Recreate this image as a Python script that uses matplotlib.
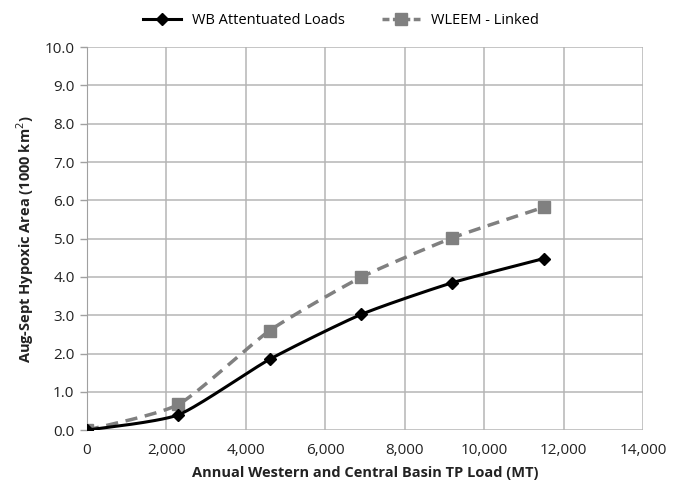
import numpy as np
import matplotlib.pyplot as plt

# -------------------------
# Data
# -------------------------

load = [0, 2300, 4600, 6900, 9200, 11500]
wb_attenuated = [0.0, 0.40, 1.85, 3.02, 3.85, 4.48]
wleem_linked = [0.0, 0.67, 2.60, 3.99, 5.02, 5.82]

x_ticks = [0, 2000, 4000, 6000, 8000, 10000, 12000, 14000]
y_ticks = [0, 1, 2, 3, 4, 5, 6, 7, 8, 9, 10]


def smooth(x, y, s=0.6, n=30):
    # cardinal spline through the points (Excel-like "smoothed line")
    x = np.asarray(x, float)
    y = np.asarray(y, float)
    px = np.concatenate(([x[0]], x, [x[-1]]))
    py = np.concatenate(([y[0]], y, [y[-1]]))
    t = np.linspace(0, 1, n)
    h00 = 2 * t ** 3 - 3 * t ** 2 + 1
    h10 = t ** 3 - 2 * t ** 2 + t
    h01 = -2 * t ** 3 + 3 * t ** 2
    h11 = t ** 3 - t ** 2
    xs, ys = [], []
    for i in range(1, len(px) - 2):
        for p, out in ((px, xs), (py, ys)):
            m1 = s * (p[i + 1] - p[i - 1]) / 2
            m2 = s * (p[i + 2] - p[i]) / 2
            out.extend(h00 * p[i] + h10 * m1 + h01 * p[i + 1] + h11 * m2)
    return np.array(xs), np.array(ys)


plt.rcParams["font.family"] = ["Open Sans", "DejaVu Sans"]

fig = plt.figure(figsize=(6.82, 4.91), dpi=100)
ax = fig.add_axes([0.1276, 0.124, 0.8154, 0.78])

sx, sy = smooth(load, wleem_linked)
ax.plot(sx, sy, color="#808080", lw=2.5, ls=(0, (3.5, 2.2)), zorder=3)
ax.plot(load, wleem_linked, ls="none", marker="s", ms=8, color="#808080", zorder=4)

sx, sy = smooth(load, wb_attenuated)
ax.plot(sx, sy, color="black", lw=2.2, zorder=5)
ax.plot(load, wb_attenuated, ls="none", marker="D", ms=6, color="black", zorder=6)

# legend proxies
ax.plot([], [], color="black", lw=2.2, marker="D", ms=6, label="WB Attentuated Loads")
ax.plot([], [], color="#808080", lw=2.5, ls=(0, (2, 1)), marker="s", ms=8,
        label="WLEEM - Linked")

ax.set_xlim(0, 14000)
ax.set_ylim(0, 10)
ax.set_xticks(x_ticks)
ax.set_xticklabels([f"{v:,}" for v in x_ticks])
ax.set_yticks(y_ticks)
ax.set_yticklabels([f"{v:.1f}" for v in y_ticks])
ax.tick_params(axis="x", length=0, pad=9, labelsize=11, colors="#222222")
ax.tick_params(axis="y", length=5, width=1, color="#a0a0a0", pad=4,
               labelsize=11, colors="#222222")

ax.grid(True, color="#b5b5b5", lw=1.1)
ax.set_axisbelow(True)
for side in ["top", "right", "bottom"]:
    ax.spines[side].set_visible(False)
ax.spines["left"].set_color("#a0a0a0")

ax.set_xlabel("Annual Western and Central Basin TP Load (MT)", fontsize=10.5,
              fontweight="bold", color="#222222", labelpad=6)
ax.set_ylabel("Aug-Sept Hypoxic Area (1000 km$^2$)", fontsize=10.5,
              fontweight="bold", color="#222222", labelpad=6)

handles, labels = ax.get_legend_handles_labels()
fig.legend(handles[-2:], labels[-2:], loc="upper center", ncol=2,
           bbox_to_anchor=(0.5, 1.0), frameon=False, fontsize=10.5,
           handlelength=2.6, columnspacing=2.5)

fig.savefig("out.png", dpi=100)
